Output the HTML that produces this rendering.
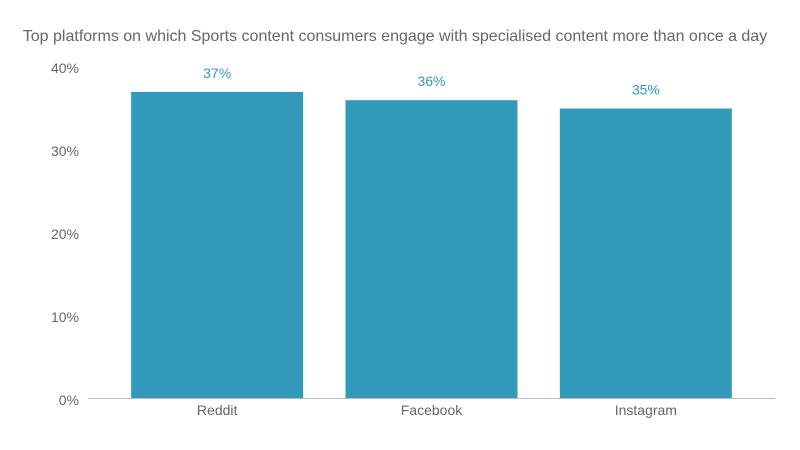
<!DOCTYPE html>
<html><head><meta charset="utf-8"><style>
html,body{margin:0;padding:0;background:#fff;}
svg{display:block;font-family:"Liberation Sans",Arial,sans-serif;}
</style></head><body>
<svg id="chart" width="800" height="450">
<text x="395" y="41" text-anchor="middle" font-size="16" fill="#666">Top platforms on which Sports content consumers engage with specialised content more than once a day</text>
<g id="yaxis"></g>
<g id="bars"></g>
<g id="xaxis"></g>
</svg>
<script>
const categories = ["Reddit", "Facebook", "Instagram"];
const values = [37, 36, 35];
const valueLabels = ["37%", "36%", "35%"];
const yTicks = [0, 10, 20, 30, 40];
const yTickLabels = ["0%", "10%", "20%", "30%", "40%"];

const NS = "http://www.w3.org/2000/svg";
const y0 = 399, yTop = 67, yMax = 40;
const plotL = 110, plotW = 643, barW = 172;
function y(v){ return y0 - (v / yMax) * (y0 - yTop); }
function xc(i){ return plotL + plotW / categories.length * (i + 0.5); }
function mk(tag, attrs, parent, text){
  const e = document.createElementNS(NS, tag);
  for (const k in attrs) e.setAttribute(k, attrs[k]);
  if (text !== undefined) e.textContent = text;
  parent.appendChild(e);
  return e;
}
const ya = document.getElementById("yaxis");
yTicks.forEach((t, i) => {
  const el = mk("text", {x: 79, y: y(t) + 6, "text-anchor": "end", "font-size": 14, fill: "#666"}, ya, yTickLabels[i]);
  
  
});
const bg = document.getElementById("bars");
values.forEach((v, i) => {
  const r = mk("rect", {x: xc(i) - barW / 2, y: y(v), width: barW, height: y0 - y(v), fill: "#3399bb"}, bg);
  
  
  const t = mk("text", {x: xc(i), y: y(v) - 14, "text-anchor": "middle", "font-size": 14, fill: "#3399bb"}, bg, valueLabels[i]);
  
  
});
const xa = document.getElementById("xaxis");
const ln = mk("line", {x1: 88, x2: 775, y1: y0 - 0.5, y2: y0 - 0.5, stroke: "#bbb", "stroke-width": 1}, xa);


categories.forEach((c, i) => {
  const t = mk("text", {x: xc(i), y: 415, "text-anchor": "middle", "font-size": 14, fill: "#666"}, xa, c);
  
  
});
</script>
</body></html>
